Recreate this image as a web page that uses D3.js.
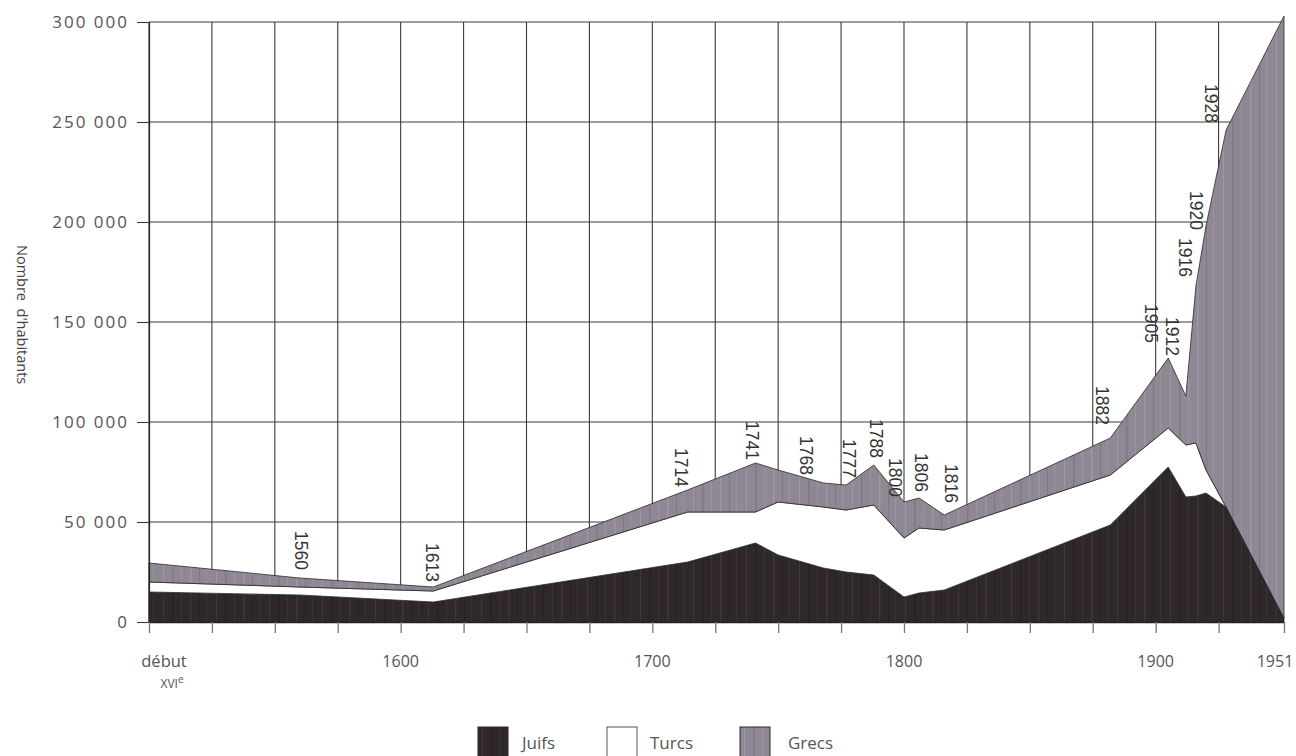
<!DOCTYPE html>
<html>
<head>
<meta charset="utf-8">
<script src="https://cdn.jsdelivr.net/npm/d3@7"></script>
<style>
  html, body { margin: 0; padding: 0; background: #ffffff; }
  svg { display: block; }
</style>
</head>
<body>
<svg id="chart" width="1296" height="756"></svg>
<script>
// ---------------- data ----------------
const years  = [1500, 1560, 1613, 1714, 1741, 1750, 1768, 1777, 1788, 1800, 1806, 1816, 1882, 1905, 1912, 1916, 1920, 1928, 1951];
const juifs  = [15000, 13500, 10000, 30000, 39500, 33500, 27000, 25000, 23500, 12500, 14500, 16000, 48500, 77500, 62500, 63000, 64500, 57500, 2000];
const turcs  = [5000, 4000, 5500, 25000, 15500, 26500, 30500, 31000, 35000, 29500, 32500, 30000, 25000, 19500, 26000, 26500, 11500, 0, 0];
const grecs  = [9500, 4500, 2000, 11000, 24500, 16000, 12000, 12500, 20000, 18000, 15000, 7500, 18500, 35000, 24500, 78500, 122000, 188500, 301000];

const seriesNames = ["Juifs", "Turcs", "Grecs"];
const labelYears  = [1560, 1613, 1714, 1741, 1768, 1777, 1788, 1800, 1806, 1816, 1882, 1905, 1912, 1916, 1920, 1928];
const xTickYears  = [1500, 1600, 1700, 1800, 1900, 1951];
const xTickLabels = ["début", "1600", "1700", "1800", "1900", "1951"];
const yTicks      = [0, 50000, 100000, 150000, 200000, 250000, 300000];
const yTitle      = "Nombre  d'habitants";

// ---------------- layout / style (not data) ----------------
const labelDx  = [1, -1, -6, -3, -17, 3, 3, -9, 2, 7, -8, -17, -14, -11, -10, -15];
const labelGap = [8, 5, 3, 3, 8, 7, 7, 5, 6, 12, 13, 15, 40, 9, -4, 7];
const colors = { Juifs: "#2e272c", Turcs: "#ffffff", Grecs: "#8f8894" };

const svg = d3.select("#chart");
const x = d3.scaleLinear().domain([1500, 1951]).range([149, 1284]);
const y = d3.scaleLinear().domain([0, 300000]).range([622, 22]);

// textures imitating the scanned vertical streaks
const defs = svg.append("defs");
function streakPattern(id, base, light, dark) {
  const p = defs.append("pattern").attr("id", id).attr("patternUnits", "userSpaceOnUse")
    .attr("width", 53).attr("height", 8);
  p.append("rect").attr("width", 53).attr("height", 8).attr("fill", base);
  [[4, light, 1], [13, dark, 1.5], [22, light, 0.8], [31, light, 1.4], [40, dark, 1], [47, light, 0.7]]
    .forEach(([px, c, w]) => p.append("rect").attr("x", px).attr("width", w).attr("height", 8).attr("fill", c).attr("opacity", 0.55));
}
streakPattern("pJ", colors.Juifs, "#4a4248", "#1f1a1d");
streakPattern("pG", colors.Grecs, "#ada6b1", "#716a76");

// ---------------- grid ----------------
const grid = svg.append("g").attr("stroke", "#3a3a3a").attr("stroke-width", 1.1).attr("fill", "none");
grid.selectAll("line.h").data(yTicks.filter(d => d > 0)).join("line")
  .attr("x1", x(1500)).attr("x2", x(1951)).attr("y1", d => y(d)).attr("y2", d => y(d));
grid.selectAll("line.v").data(d3.range(1500, 1926, 25)).join("line")
  .attr("x1", d => x(d)).attr("x2", d => x(d)).attr("y1", y(0)).attr("y2", y(300000));

// ---------------- stacked areas ----------------
const table = years.map((yr, i) => ({ year: yr, Juifs: juifs[i], Turcs: turcs[i], Grecs: grecs[i] }));
const stacked = d3.stack().keys(seriesNames)(table);
const area = d3.area().x(d => x(d.data.year)).y0(d => y(d[0])).y1(d => y(d[1]));
const fills = { Juifs: "url(#pJ)", Turcs: colors.Turcs, Grecs: "url(#pG)" };
svg.append("g").selectAll("path").data(stacked).join("path")
  .attr("d", area)
  .attr("fill", d => fills[d.key])
  .attr("stroke", "#2a2a2a").attr("stroke-width", 0.8).attr("stroke-linejoin", "round");

// ---------------- axes ----------------
const fmt = d3.formatLocale({ decimal: ",", thousands: " ", grouping: [3], currency: ["", ""] }).format(",d");
const yAxis = svg.append("g").attr("transform", `translate(${x(1500)},0)`)
  .call(d3.axisLeft(y).tickValues(yTicks).tickFormat(fmt).tickSize(12).tickPadding(8));
yAxis.select(".domain").attr("stroke", "#222").attr("stroke-width", 1.2);
yAxis.selectAll(".tick line").attr("stroke", "#3a3a3a").attr("stroke-width", 1.1);
yAxis.selectAll("text").attr("font-family", "Open Sans, sans-serif").attr("font-size", 17)
  .attr("letter-spacing", 2).attr("fill", "#555");

const xAxis = svg.append("g").attr("transform", `translate(0,${y(0)})`)
  .call(d3.axisBottom(x).tickValues(d3.range(1500, 1926, 25).concat([1951])).tickFormat("").tickSize(11).tickSizeOuter(0));
xAxis.select(".domain").attr("stroke", "#222").attr("stroke-width", 1.4);
xAxis.selectAll(".tick line").attr("stroke", "#777").attr("stroke-width", 1.3);

const xl = svg.append("g").attr("font-family", "Open Sans, sans-serif").attr("font-size", 16).attr("fill", "#555");
xl.selectAll("text").data(xTickYears).join("text")
  .attr("x", (d, i) => x(d) + (i === 0 ? 15 : i === xTickYears.length - 1 ? -9 : 0))
  .attr("y", 667).attr("text-anchor", "middle")
  .attr("font-size", (d, i) => i === 0 ? 16.5 : 16)
  .text((d, i) => xTickLabels[i]);
const sub = xl.append("text").attr("x", x(1500) + 23).attr("y", 688).attr("text-anchor", "middle");
sub.append("tspan").text("XVI").attr("font-size", 12);
sub.append("tspan").text("e").attr("font-size", 10).attr("dy", -5);

// y title
svg.append("text").attr("transform", "translate(17,245) rotate(90)")
  .attr("font-family", "Open Sans, sans-serif").attr("font-size", 14.5).attr("fill", "#444")
  .attr("text-anchor", "start").style("white-space", "pre").text(yTitle);

// ---------------- year annotations ----------------
const totals = years.map((yr, i) => juifs[i] + turcs[i] + grecs[i]);
svg.append("g").attr("font-family", "Liberation Sans, Arial, sans-serif").attr("font-size", 17.5).attr("fill", "#333")
  .selectAll("text").data(labelYears).join("text")
  .attr("transform", (d, i) => {
    const k = years.indexOf(d);
    return `translate(${x(d) + labelDx[i]},${y(totals[k]) - labelGap[i]}) rotate(90)`;
  })
  .attr("text-anchor", "end").attr("dy", "0.36em")
  .text(d => d);

// ---------------- legend ----------------
const legX = [478, 607, 740];
const leg = svg.append("g").selectAll("g").data(seriesNames).join("g")
  .attr("transform", (d, i) => `translate(${legX[i]},727)`);
leg.append("rect").attr("width", 30).attr("height", 30)
  .attr("fill", d => fills[d]).attr("stroke", d => d === "Turcs" ? "#555" : "#2a2a2a").attr("stroke-width", 1);
leg.append("text").attr("x", (d, i) => [44, 43, 48][i]).attr("y", 22)
  .attr("font-family", "Open Sans, sans-serif").attr("font-size", 17).attr("fill", "#555")
  .text(d => d);
</script>
</body>
</html>
